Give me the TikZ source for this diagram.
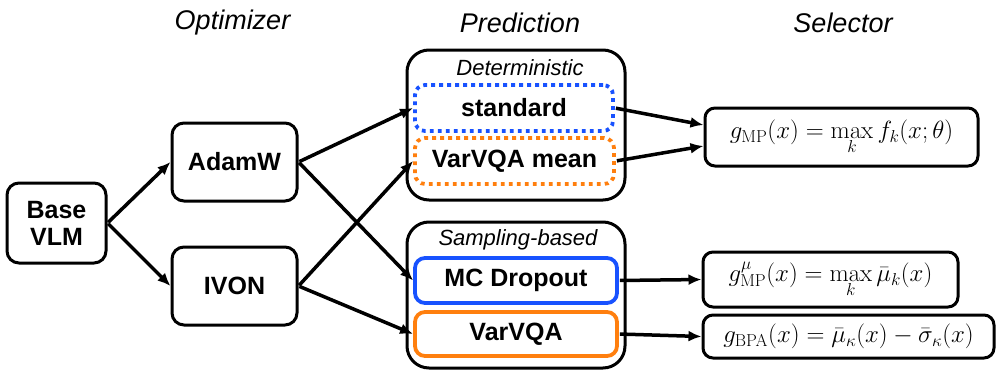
\documentclass[tikz,border=0pt]{standalone}
\usepackage[no-math]{fontspec}
\setmainfont{Liberation Sans}
\usetikzlibrary{arrows.meta}
\definecolor{myblue}{RGB}{24,82,255}
\definecolor{myorange}{RGB}{255,127,14}
\tikzset{
  box/.style={draw=black, line width=3pt, rounded corners=12pt, inner sep=0pt, font=\fontsize{25}{27}\selectfont\bfseries, align=center},
  group/.style={draw=black, line width=3pt, rounded corners=22pt, inner sep=0pt},
  dotbox/.style={line width=3.8pt, dash pattern=on 3.8pt off 4.2pt, rounded corners=10pt, inner sep=0pt, font=\fontsize{25}{27}\selectfont\bfseries},
  solbox/.style={line width=3.8pt, rounded corners=10pt, inner sep=0pt, font=\fontsize{25}{27}\selectfont\bfseries},
  selbox/.style={draw=black, line width=3pt, rounded corners=10pt, inner sep=0pt, font=\fontsize{24.3}{28}\selectfont},
  header/.style={font=\fontsize{27}{30}\selectfont\itshape},
  sub/.style={font=\fontsize{22}{26}\selectfont\itshape},
  arr/.style={line width=3.5pt, -{Latex[length=13pt,width=11pt]}, shorten <=1pt}
}
\begin{document}
\begin{tikzpicture}[x=1pt,y=-1pt]
\useasboundingbox (0,0) rectangle (997,375);
% headers
\node[header] (hopt) at (232.5,23) {Optimizer};
\node[header] (hpred) at (520,23) {Prediction};
\node[header] (hsel) at (843,23) {Selector};
% left boxes
\node[box, minimum width=99pt, minimum height=80pt] (base) at (56.5,223) {Base\\VLM};
\node[box, minimum width=125pt, minimum height=78pt] (adamw) at (234.5,162) {AdamW};
\node[box, minimum width=125pt, minimum height=78pt] (ivon) at (234.5,286) {IVON};
% groups
\node[group, minimum width=218pt, minimum height=150pt] (det) at (516,125) {};
\node[sub] (dettxt) at (520,68) {Deterministic};
\node[dotbox, draw=myblue, minimum width=198pt, minimum height=46pt] (std) at (514,108) {standard};
\node[dotbox, draw=myorange, minimum width=199pt, minimum height=46pt] (vmean) at (514.5,161) {VarVQA mean};
\node[group, minimum width=218pt, minimum height=146pt] (samp) at (516,295) {};
\node[sub] (samptxt) at (518,240) {Sampling-based};
\node[solbox, draw=myblue, minimum width=202pt, minimum height=45pt] (mc) at (516,280.5) {MC Dropout};
\node[solbox, draw=myorange, minimum width=202pt, minimum height=44pt] (vvqa) at (516,334) {VarVQA};
% selectors
\node[selbox, minimum width=273pt, minimum height=58pt] (gmp) at (841.5,137) {$g_{\mathrm{MP}}(x) = \max\limits_k f_k(x;\theta)$};
\node[selbox, minimum width=255pt, minimum height=55pt] (gmu) at (830.5,279.5) {$g^{\mu}_{\mathrm{MP}}(x) = \max\limits_k \bar{\mu}_k(x)$};
\node[selbox, minimum width=291pt, minimum height=43pt] (gbpa) at (848.5,336.5) {$g_{\mathrm{BPA}}(x) = \bar{\mu}_\kappa(x) - \bar{\sigma}_\kappa(x)$};
% arrows
\draw[arr] (base.east) -- (adamw.west);
\draw[arr] (base.east) -- (ivon.west);
\draw[arr] (adamw.east) -- (std.west);
\draw[arr] (adamw.east) -- (mc.west);
\draw[arr] (ivon.east) -- (vmean.west);
\draw[arr] (ivon.east) -- (vvqa.west);
\draw[arr] (std.east) -- ([yshift=12pt]gmp.west);
\draw[arr] (vmean.east) -- ([yshift=-9pt]gmp.west);
\draw[arr] (mc.east) -- (gmu.west);
\draw[arr] (vvqa.east) -- (gbpa.west);
\end{tikzpicture}
\end{document}
